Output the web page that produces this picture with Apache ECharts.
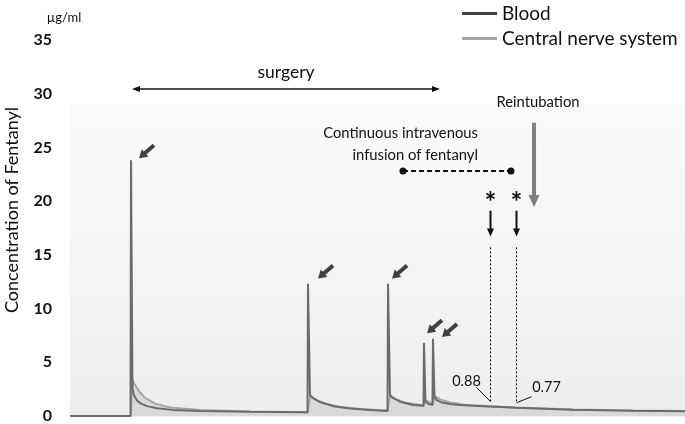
<!DOCTYPE html>
<html>
<head>
<meta charset="utf-8">
<script src="https://cdn.jsdelivr.net/npm/echarts@6/dist/echarts.min.js"></script>
<style>
  html, body { margin: 0; padding: 0; background: #fff; }
  #chart { width: 685px; height: 424px; }
</style>
</head>
<body>
<div id="chart"></div>
<script>
// --- data (time in arbitrary units, concentration in µg/ml) ---
const bloodTime = [0, 9.84, 9.92, 10.16, 10.41, 10.89, 11.54, 12.52, 14.15, 16.59, 21.14, 29.27, 38.62,
  38.70, 39.02, 39.51, 40.65, 43.09, 45.53, 48.78, 51.63,
  51.71, 52.03, 52.52, 53.66, 55.77, 57.48,
  57.56, 57.80, 58.21, 58.94,
  59.02, 59.27, 59.67, 60.49, 61.79, 63.41, 65.53, 68.29, 72.52, 81.79, 91.54, 100];
const bloodConc = [0, 0, 23.8, 2.6, 1.9, 1.45, 1.15, 0.92, 0.72, 0.57, 0.46, 0.39, 0.34,
  12.3, 1.95, 1.68, 1.3, 0.88, 0.7, 0.56, 0.47,
  12.3, 1.96, 1.68, 1.33, 1.02, 0.95,
  6.8, 1.35, 1.15, 1.02,
  7.2, 1.75, 1.45, 1.25, 1.12, 1.02, 0.95, 0.88, 0.77, 0.58, 0.5, 0.45];

const cnsTime = [0, 9.89, 10.16, 10.57, 11.22, 12.20, 13.82, 16.26, 21.14, 29.27, 38.67,
  39.02, 39.84, 41.46, 43.90, 47.15, 51.67,
  52.03, 52.85, 54.47, 57.53,
  57.89, 58.99,
  59.35, 60.16, 61.79, 64.23, 68.29, 72.52, 81.79, 91.54, 100];
const cnsConc = [0, 0, 3.35, 2.9, 2.3, 1.7, 1.15, 0.8, 0.56, 0.43, 0.36,
  1.85, 1.55, 1.15, 0.85, 0.66, 0.52,
  1.9, 1.6, 1.25, 0.98,
  1.45, 1.15,
  1.85, 1.55, 1.25, 1.05, 0.9, 0.79, 0.6, 0.52, 0.47];

const yMax = 35;
const yStep = 5;

// annotations (data coordinates)
const surgerySpan = [10.08, 60.16];
const surgeryLevel = 30.45;
const infusionSpan = [54.15, 71.7];
const infusionLevel = 22.8;
const reintubationTime = 75.45;
const reintubationRange = [27.3, 19.45];
const sampleTimes = [68.29, 72.52];
const sampleLabels = ['0.88', '0.77'];
const doseArrowTips = [[11.22, 24.0], [40.33, 12.8], [52.36, 12.8], [58.05, 7.7], [60.49, 7.35]];

const FONT = 'Lato, "Open Sans", sans-serif';

const chart = echarts.init(document.getElementById('chart'));

chart.setOption({
  animation: false,
  grid: { left: 70, right: 0, top: 40, bottom: 8 },
  legend: {
    orient: 'vertical',
    left: 457,
    top: -1,
    itemWidth: 35,
    itemHeight: 3,
    itemGap: 6,
    icon: 'rect',
    textStyle: { fontFamily: FONT, fontSize: 19, color: '#111' },
    data: [
      { name: 'Blood', itemStyle: { color: '#404040' } },
      { name: 'Central nerve system', itemStyle: { color: '#a6a6a6' } },
    ],
  },
  xAxis: {
    type: 'value',
    min: 0,
    max: 100,
    axisLine: { show: false },
    axisTick: { show: false },
    axisLabel: { show: false },
    splitLine: { show: false },
  },
  yAxis: {
    type: 'value',
    min: 0,
    max: yMax,
    interval: yStep,
    axisLine: { show: false },
    axisTick: { show: false },
    splitLine: { show: false },
    axisLabel: { fontFamily: FONT, fontWeight: 'bold', fontSize: 16, color: '#111', margin: 18 },
  },
  series: [
    {
      name: 'Central nerve system',
      type: 'line',
      data: cnsTime.map((t, i) => [t, cnsConc[i]]),
      showSymbol: false,
      z: 2,
      itemStyle: { color: '#a6a6a6' },
      lineStyle: { color: '#a6a6a6', width: 2 },
      areaStyle: { color: '#d9d9d9', opacity: 1 },
    },
    {
      name: 'Blood',
      type: 'line',
      data: bloodTime.map((t, i) => [t, bloodConc[i]]),
      showSymbol: false,
      z: 3,
      itemStyle: { color: '#6b6b6b' },
      lineStyle: { color: '#6b6b6b', width: 2 },
    },
  ],
});

// --- annotation helpers ---
const px = (t, v) => chart.convertToPixel({ gridIndex: 0 }, [t, v]);

function arrowPoints(x1, y1, x2, y2, w, hl, hw) {
  const len = Math.hypot(x2 - x1, y2 - y1);
  const dx = (x2 - x1) / len, dy = (y2 - y1) / len;
  const nx = -dy, ny = dx;
  const bx = x2 - dx * hl, by = y2 - dy * hl;
  return [
    [x1 + nx * w / 2, y1 + ny * w / 2],
    [bx + nx * w / 2, by + ny * w / 2],
    [bx + nx * hw / 2, by + ny * hw / 2],
    [x2, y2],
    [bx - nx * hw / 2, by - ny * hw / 2],
    [bx - nx * w / 2, by - ny * w / 2],
    [x1 - nx * w / 2, y1 - ny * w / 2],
  ];
}
const arrow = (x1, y1, x2, y2, w, hl, hw, color) => ({
  type: 'polygon', shape: { points: arrowPoints(x1, y1, x2, y2, w, hl, hw) }, style: { fill: color },
});
const text = (x, y, str, opts) => ({
  type: 'text', x, y,
  style: Object.assign({ text: str, fontFamily: FONT, fontSize: 15, fill: '#111', textAlign: 'center', textVerticalAlign: 'middle' }, opts),
});

const base = px(0, 0);
const plotTop = px(0, 29.1);
const graphics = [];

// plot background
graphics.push({
  type: 'rect', z: -10,
  shape: { x: base[0], y: plotTop[1], width: 685 - base[0], height: base[1] - plotTop[1] + 1 },
  style: {
    fill: new echarts.graphic.LinearGradient(0, 0, 0, 1, [
      { offset: 0, color: '#fbfbfb' },
      { offset: 1, color: '#eeeeee' },
    ]),
  },
});

// axis texts
graphics.push(text(64, 18, 'µg/ml', { fontSize: 13 }));
graphics.push(Object.assign(text(12, 210, 'Concentration of Fentanyl', { fontSize: 18 }), { rotation: Math.PI / 2 }));

// surgery
const s1 = px(surgerySpan[0], surgeryLevel), s2 = px(surgerySpan[1], surgeryLevel);
graphics.push({ type: 'line', shape: { x1: s1[0] + 6, y1: s1[1], x2: s2[0] - 6, y2: s2[1] }, style: { stroke: '#111', lineWidth: 1.5 } });
graphics.push(arrow(s1[0] + 8, s1[1], s1[0], s1[1], 1, 8, 6, '#111'));
graphics.push(arrow(s2[0] - 8, s2[1], s2[0], s2[1], 1, 8, 6, '#111'));
graphics.push(text((s1[0] + s2[0]) / 2, s1[1] - 17, 'surgery', { fontSize: 17.5 }));

// continuous infusion
const i1 = px(infusionSpan[0], infusionLevel), i2 = px(infusionSpan[1], infusionLevel);
graphics.push({ type: 'line', shape: { x1: i1[0], y1: i1[1], x2: i2[0], y2: i2[1] }, style: { stroke: '#111', lineWidth: 2, lineDash: [5, 3] } });
graphics.push({ type: 'circle', shape: { cx: i1[0], cy: i1[1], r: 3.5 }, style: { fill: '#111' } });
graphics.push({ type: 'circle', shape: { cx: i2[0], cy: i2[1], r: 3.5 }, style: { fill: '#111' } });
graphics.push(text(i2[0] - 33, i1[1] - 38, 'Continuous intravenous', { textAlign: 'right', fontSize: 14.8 }));
graphics.push(text(i2[0] - 33, i1[1] - 16, 'infusion of fentanyl', { textAlign: 'right', fontSize: 14.8 }));

// reintubation
const r1 = px(reintubationTime, reintubationRange[0]), r2 = px(reintubationTime, reintubationRange[1]);
graphics.push(arrow(r1[0], r1[1], r2[0], r2[1], 4, 12, 11, '#7f7f7f'));
graphics.push(text(r1[0] + 4, r1[1] - 20, 'Reintubation', { fontSize: 14.8 }));

// sampling points
sampleTimes.forEach((t, k) => {
  const idx = bloodTime.indexOf(t);
  const p = px(t, bloodConc[idx]);
  const xc = Math.round(p[0]) + 0.5;
  const star = px(t, 20.3), a1 = px(t, 19.1), a2 = px(t, 16.7), d1 = px(t, 15.7);
  graphics.push(text(xc, star[1] + 5, '*', { fontSize: 28, fontWeight: 'bold' }));
  graphics.push(arrow(xc, a1[1], xc, a2[1], 2, 8, 7, '#111'));
  graphics.push({ type: 'line', shape: { x1: xc, y1: d1[1], x2: xc, y2: p[1] - 5 }, style: { stroke: '#000', lineWidth: 1, lineDash: [2, 2] } });
  if (k === 0) {
    graphics.push({ type: 'line', shape: { x1: xc - 14, y1: p[1] - 19, x2: xc, y2: p[1] - 5 }, style: { stroke: '#111', lineWidth: 1 } });
    graphics.push(text(xc - 24, p[1] - 25, sampleLabels[k], { fontSize: 14.5 }));
  } else {
    graphics.push({ type: 'line', shape: { x1: xc, y1: p[1] - 5, x2: xc + 15, y2: p[1] - 11 }, style: { stroke: '#111', lineWidth: 1 } });
    graphics.push(text(xc + 30, p[1] - 20, sampleLabels[k], { fontSize: 14.5 }));
  }
});

// bolus arrows at the peaks
doseArrowTips.forEach(([t, v]) => {
  const tip = px(t, v);
  graphics.push(arrow(tip[0] + 15, tip[1] - 13, tip[0], tip[1], 4, 8, 10, '#404040'));
});

chart.setOption({ graphic: graphics });
</script>
</body>
</html>
